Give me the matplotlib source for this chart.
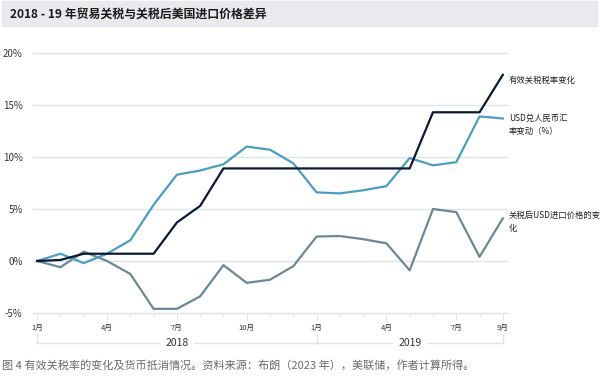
import numpy as np
import matplotlib
matplotlib.use("Agg")
import matplotlib.pyplot as plt
from matplotlib.patches import Rectangle
import matplotlib.transforms as mtransforms

plt.rcParams['font.family'] = ['Noto Sans CJK SC', 'DejaVu Sans']

# --- data: monthly, Jan 2018 .. Sep 2019 (%) ---
months = list(range(21))
tariff = [0.0, 0.1, 0.7, 0.7, 0.7, 0.7, 3.7, 5.3, 8.9, 8.9, 8.9, 8.9, 8.9,
          8.9, 8.9, 8.9, 8.9, 14.3, 14.3, 14.3, 17.9]
usd_cny = [0.0, 0.7, -0.2, 0.7, 2.0, 5.4, 8.3, 8.7, 9.3, 11.0, 10.7, 9.4, 6.6,
           6.5, 6.8, 7.2, 9.9, 9.2, 9.5, 13.9, 13.7]
import_px = [0.0, -0.6, 0.9, 0.0, -1.25, -4.6, -4.6, -3.4, -0.4, -2.1, -1.8, -0.5, 2.35,
             2.4, 2.1, 1.7, -0.9, 5.0, 4.7, 0.4, 4.1]
tick_pos = [0, 3, 6, 9, 12, 15, 18, 20]
tick_lab = ["1月", "4月", "7月", "10月", "1月", "4月", "7月", "9月"]
years = ["2018", "2019"]
year_span = [(0, 12), (12, 20)]

c_tariff = "#0b1833"
c_usd = "#4b9dc2"
c_imp = "#6b8898"
grid_c = "#dfe4e8"

fig = plt.figure(figsize=(6.0, 3.84), dpi=100)
W, H = 600, 384

# title bar
fig.patches.append(Rectangle((2 / W, 1 - 26 / H), 595 / W, 25 / H,
                             transform=fig.transFigure, color="#e8eaed", zorder=0))
fig.text(10 / W, 1 - 14 / H, "2018 - 19 年贸易关税与关税后美国进口价格差异",
         fontsize=8.6, fontweight="bold", color="#1a1a1a", va="center", ha="left")

ax = fig.add_axes([33 / W, 1 - 313 / H, 474 / W, 260 / H])
ax.set_xlim(-0.18, 20.18)
ax.set_ylim(-5, 20)
for s in ax.spines.values():
    s.set_visible(False)

for y in [0, 5, 10, 15, 20]:
    ax.axhline(y, color=grid_c, lw=1.0, zorder=1, clip_on=False)
ax.axhline(-5, color=grid_c, lw=1.0, zorder=1, clip_on=False)

ax.plot(months, import_px, color=c_imp, lw=1.6, zorder=3, clip_on=False)
ax.plot(months, usd_cny, color=c_usd, lw=1.6, zorder=3, clip_on=False)
ax.plot(months, tariff, color=c_tariff, lw=1.6, zorder=4, clip_on=False)

ax.set_yticks([-5, 0, 5, 10, 15, 20])
ax.set_yticklabels([f"{v}%" for v in [-5, 0, 5, 10, 15, 20]])
ax.tick_params(axis="y", length=0, pad=7.5, labelsize=7, labelcolor="#333333")

ax.set_xticks(tick_pos)
ax.set_xticklabels(tick_lab)
ax.set_xticks(months, minor=True)
ax.tick_params(axis="x", which="major", length=5, width=0.8, color=grid_c,
               labelsize=5.5, labelcolor="#333333", pad=3)
ax.tick_params(axis="x", which="minor", length=2.5, width=0.8, color=grid_c)

# year brackets
trans = mtransforms.blended_transform_factory(ax.transData, ax.transAxes)
yb = -30 / 260
yt = -22 / 260
for lab, (a, b) in zip(years, year_span):
    ax.plot([a, b], [yb, yb], color=grid_c, lw=1.0, transform=trans, clip_on=False)
    ax.text((a + b) / 2, yb, lab, transform=trans, ha="center", va="center",
            fontsize=7.5, color="#333333",
            bbox=dict(facecolor="white", edgecolor="none", pad=4))
for xv in [0, 12, 20]:
    ax.plot([xv, xv], [yt, yb], color=grid_c, lw=1.0, transform=trans, clip_on=False)

# series labels
lab_kw = dict(fontsize=6, color="#222222", ha="left", va="center", linespacing=1.5)
fig.text(509 / W, 1 - 80 / H, "有效关税税率变化", **lab_kw)
fig.text(509 / W, 1 - 125 / H, "USD兑人民币汇\n率变动（%）", **lab_kw)
fig.text(509 / W, 1 - 222 / H, "关税后USD进口价格的变\n化", **lab_kw)

# caption
fig.text(2 / W, 1 - 365 / H,
         "图 4 有效关税率的变化及货币抵消情况。资料来源：布朗（2023 年），美联储，作者计算所得。",
         fontsize=8, color="#6a6a6a", ha="left", va="center")

fig.savefig("out.png", dpi=100)
